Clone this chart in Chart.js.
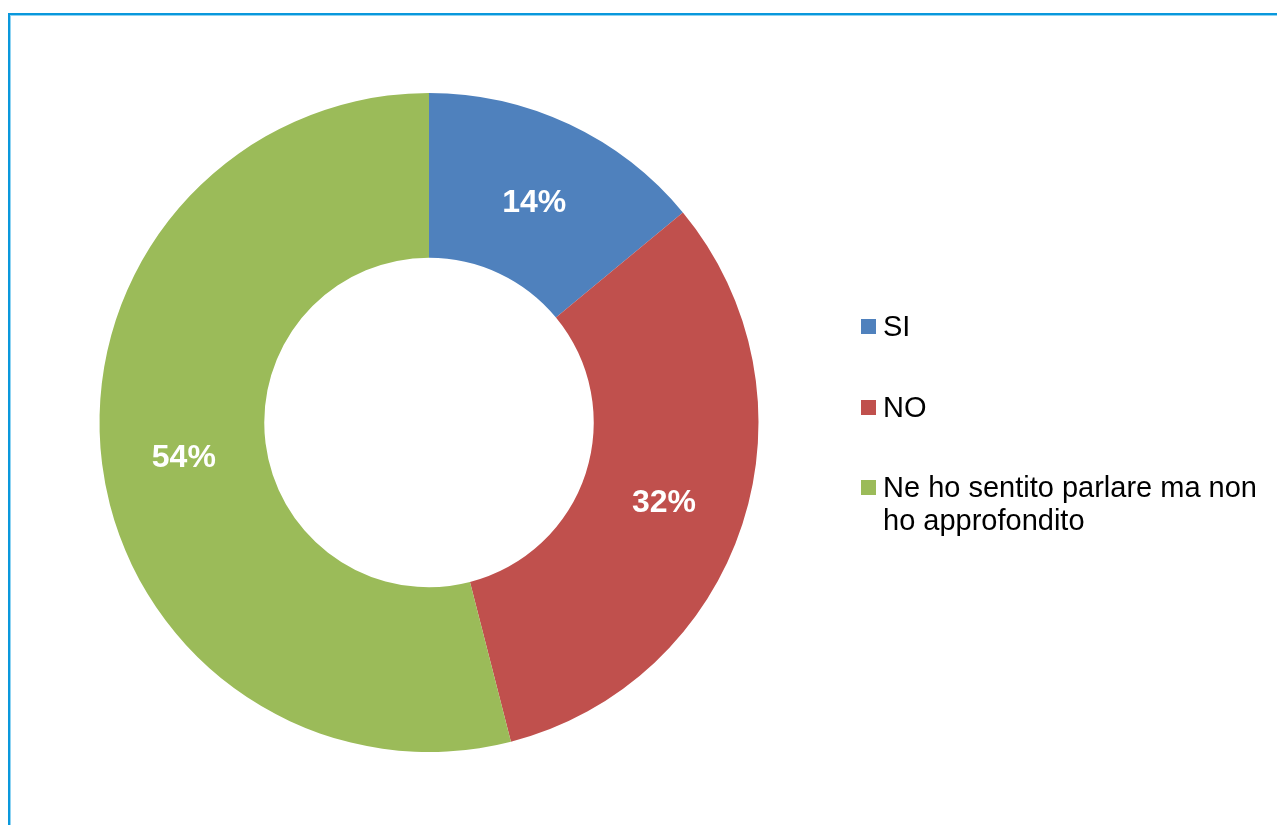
<!DOCTYPE html>
<html>
<head>
<meta charset="utf-8">
<script src="https://cdn.jsdelivr.net/npm/chart.js@4.4.1/dist/chart.umd.min.js"></script>
<style>
  html, body { margin: 0; padding: 0; background: #ffffff; overflow: hidden; }
  #wrap { position: relative; width: 1277px; height: 825px; }
  #frame {
    position: absolute; left: 8px; top: 13px; width: 1320px; height: 900px;
    border-left: 2px solid #0a98dc; border-top: 2px solid #0a98dc;
    box-shadow: inset 1px 1px 0 #8fd3f2;
  }
  canvas { position: absolute; left: 0; top: 0; }
  #legend { position: absolute; left: 861px; top: 0; font-family: "Liberation Sans", Arial, sans-serif; font-size: 29px; color: #000; }
  .item { position: absolute; left: 0; width: 410px; }
  .swatch { position: absolute; left: 0; width: 15px; height: 15px; }
  .text { position: absolute; left: 22px; top: -9px; line-height: 33px; width: 385px; }
</style>
</head>
<body>
<div id="wrap">
  <div id="frame"></div>
  <canvas id="c" width="1277" height="825"></canvas>
  <div id="legend"></div>
</div>
<script>
const categories = ['SI', 'NO', 'Ne ho sentito parlare ma non ho approfondito'];
const values = [14, 32, 54];
const colors = ['#4F81BD', '#C0504D', '#9BBB59'];
const legendTops = [319, 400, 480];

// Percent labels drawn at the middle of each ring segment
const sliceLabels = {
  id: 'sliceLabels',
  afterDatasetsDraw(chart) {
    const ctx = chart.ctx;
    const meta = chart.getDatasetMeta(0);
    const total = values.reduce((a, b) => a + b, 0);
    const size = 32;
    ctx.save();
    ctx.fillStyle = '#ffffff';
    ctx.font = 'bold ' + size + 'px "Liberation Sans", Arial, sans-serif';
    ctx.textAlign = 'center';
    ctx.textBaseline = 'alphabetic';
    meta.data.forEach((arc, i) => {
      const p = arc.tooltipPosition();
      ctx.fillText(Math.round(values[i] / total * 100) + '%', p.x, p.y + size * 0.358 + 2);
    });
    ctx.restore();
  }
};

const chart = new Chart(document.getElementById('c'), {
  type: 'doughnut',
  data: {
    labels: categories,
    datasets: [{
      data: values,
      backgroundColor: colors,
      borderWidth: 0
    }]
  },
  options: {
    responsive: false,
    animation: false,
    cutout: '50%',
    layout: { padding: { left: 99, right: 518, top: 93, bottom: 73 } },
    plugins: {
      legend: { display: false },
      tooltip: { enabled: false }
    }
  },
  plugins: [sliceLabels]
});

// Legend built from the chart's own legend items
const legendEl = document.getElementById('legend');
const items = chart.options.plugins.legend.labels.generateLabels(chart);
items.forEach((it, i) => {
  const div = document.createElement('div');
  div.className = 'item';
  div.style.top = legendTops[i] + 'px';
  const sw = document.createElement('div');
  sw.className = 'swatch';
  sw.style.background = it.fillStyle;
  const tx = document.createElement('div');
  tx.className = 'text';
  tx.textContent = it.text;
  div.appendChild(sw);
  div.appendChild(tx);
  legendEl.appendChild(div);
});
</script>
</body>
</html>
